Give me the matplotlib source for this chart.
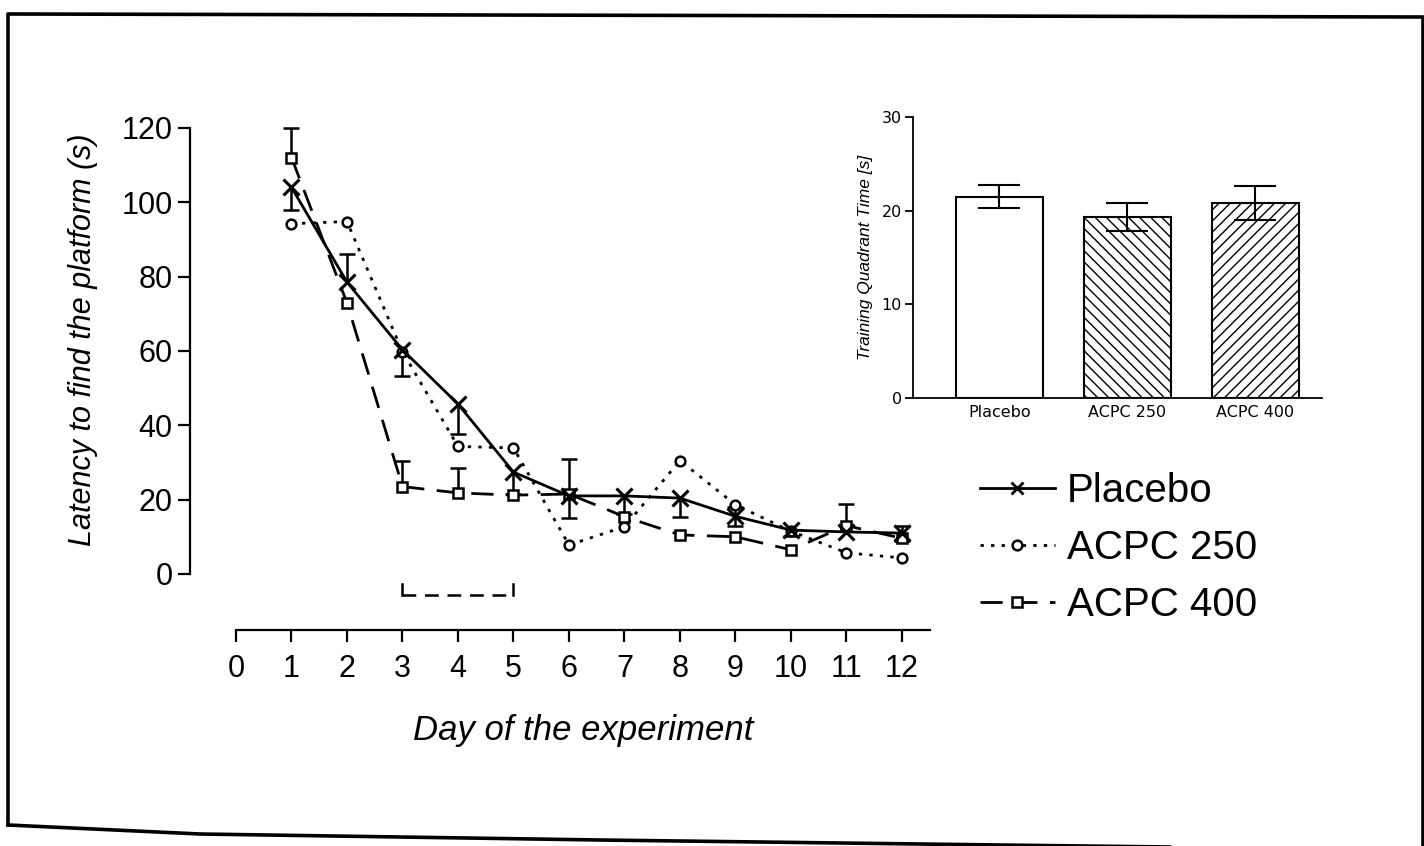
import matplotlib
matplotlib.use("Agg")
import matplotlib.pyplot as plt
import numpy as np
from matplotlib.lines import Line2D

plt.rcParams['font.family'] = ['Liberation Sans', 'DejaVu Sans']
plt.rcParams['hatch.linewidth'] = 1.0

# ---------------- data ----------------
days = [1, 2, 3, 4, 5, 6, 7, 8, 9, 10, 11, 12]
placebo = [104, 78.5, 60.3, 45.7, 27.4, 21, 21, 20.4, 15.5, 11.8, 11.3, 11]
placebo_lo = [6, 0, 7, 8, 6, 6, 5, 5, 2.5, 1.5, 0, 2]
placebo_hi = [0, 7.5, 0, 0, 0, 10, 0, 0, 2.5, 0, 0, 2]

acpc250 = [94.2, 94.8, 59.8, 34.3, 33.9, 7.8, 12.7, 30.5, 18.6, 11.5, 5.7, 4.3]

acpc400 = [112, 72.9, 23.5, 21.8, 21.2, 21.5, 15.4, 10.5, 10, 6.5, 13, 9.6]
acpc400_hi = [8, 0, 7, 6.7, 0, 0, 0, 0, 0, 0, 5.8, 0]

xticks_main = list(range(0, 13))
yticks_main = [0, 20, 40, 60, 80, 100, 120]

groups = ['Placebo', 'ACPC 250', 'ACPC 400']
quad_time = [21.5, 19.3, 20.8]
quad_err = [1.2, 1.5, 1.8]
inset_yticks = [0, 10, 20, 30]

W, H = 1424, 846
fig = plt.figure(figsize=(W / 100, H / 100), dpi=100)
fig.patch.set_facecolor('white')

def fx(px):
    return px / W

def fy(py):
    return 1 - py / H

# ---------------- main axes ----------------
ax = fig.add_axes([fx(180), fy(640), fx(935) - fx(180), fy(120) - fy(640)])
ax.set_xlim(-1.009, 12.595)
ax.set_ylim(-17.76, 122.1)
for s in ['top', 'right']:
    ax.spines[s].set_visible(False)
ax.spines['left'].set_position(('data', -0.83))
ax.spines['left'].set_bounds(0, 120)
ax.spines['bottom'].set_position(('data', -15))
ax.spines['bottom'].set_bounds(0, 12.5)
for s in ['left', 'bottom']:
    ax.spines[s].set_linewidth(1.6)
ax.set_xticks(xticks_main)
ax.set_yticks(yticks_main)
ax.tick_params(axis='both', direction='out', length=8.5, width=1.6, labelsize=22)
ax.tick_params(axis='y', pad=4)
ax.tick_params(axis='x', pad=9)

d = np.array(days, dtype=float)
p = np.array(placebo)
a250 = np.array(acpc250)
a400 = np.array(acpc400)

dotted = (0, (1.2, 2.6))
dashed = (0, (8, 4.5))

ax.plot(d, a250, color='black', lw=2.0, ls=dotted, marker='o', ms=7,
        mfc='white', mec='black', mew=1.8, zorder=3)
ax.plot(d, a400, color='black', lw=2.0, ls=dashed, marker='s', ms=7,
        mfc='white', mec='black', mew=1.8, zorder=3)
ax.plot(d, p, color='black', lw=2.0, ls='-', marker='x', ms=12,
        mew=2.2, zorder=4)

def err_up(x, y, hi):
    x = np.asarray(x); y = np.asarray(y); hi = np.asarray(hi)
    m = hi > 0
    ax.vlines(x[m], y[m], y[m] + hi[m], color='black', lw=1.8, zorder=2)
    ax.plot(x[m], y[m] + hi[m], ls='none', marker='_', ms=11, mew=1.8,
            color='black', zorder=2)

def err_lo(x, y, lo):
    x = np.asarray(x); y = np.asarray(y); lo = np.asarray(lo)
    m = lo > 0
    ax.vlines(x[m], y[m] - lo[m], y[m], color='black', lw=1.8, zorder=2)
    ax.plot(x[m], y[m] - lo[m], ls='none', marker='_', ms=11, mew=1.8,
            color='black', zorder=2)

err_up(d, p, placebo_hi)
err_lo(d, p, placebo_lo)
err_up(d, a400, acpc400_hi)

# dashed bracket under days 3-5
ax.plot([3, 5], [-5.6, -5.6], color='black', lw=1.8,
        ls=(0, (5.5, 3.5)), clip_on=False)
ax.plot([3, 3], [-2.6, -5.6], color='black', lw=1.8, clip_on=False)
ax.plot([5, 5], [-2.6, -5.6], color='black', lw=1.8, clip_on=False)

fig.text(fx(83), fy(340), 'Latency to find the platform (s)', rotation=90,
         ha='center', va='center', fontsize=22, style='italic')
fig.text(fx(583), fy(730), 'Day of the experiment', ha='center',
         va='center', fontsize=25, style='italic')

# legend
handles = [
    Line2D([], [], color='black', lw=2.0, ls='-', marker='x', ms=9, mew=2),
    Line2D([], [], color='black', lw=2.0, ls=dotted, marker='o', ms=7,
           mfc='white', mec='black', mew=1.8),
    Line2D([], [], color='black', lw=2.0, ls=dashed, marker='s', ms=7,
           mfc='white', mec='black', mew=1.8),
]
fig.legend(handles, groups, loc='upper left',
           bbox_to_anchor=(fx(980), fy(472)), frameon=False, fontsize=29,
           handlelength=1.85, handletextpad=0.3, labelspacing=0.47,
           borderpad=0, borderaxespad=0)

# ---------------- inset bar chart ----------------
ax2 = fig.add_axes([fx(913), fy(398), fx(1322) - fx(913), fy(117) - fy(398)])
ax2.set_xlim(-0.675, 2.52)
ax2.set_ylim(0, 30)
for s in ['top', 'right']:
    ax2.spines[s].set_visible(False)
for s in ['left', 'bottom']:
    ax2.spines[s].set_linewidth(1.3)
hatches = ['', '\\\\\\', '///']
xb = np.arange(len(groups))
for i in range(len(groups)):
    ax2.bar(xb[i], quad_time[i], width=0.675, facecolor='white',
            edgecolor='black', lw=1.5, hatch=hatches[i], zorder=2)
ax2.errorbar(xb, quad_time, yerr=quad_err, fmt='none', ecolor='black',
             elinewidth=1.5, capsize=15, capthick=1.5, zorder=3)
ax2.set_yticks(inset_yticks)
ax2.set_xticks(xb)
ax2.set_xticklabels(groups, fontsize=11.5, family=['DejaVu Sans'])
ax2.tick_params(axis='x', length=0, pad=5)
ax2.tick_params(axis='y', direction='out', length=6, width=1.3,
                labelsize=11.5, pad=2)
for t in ax2.get_yticklabels():
    t.set_family(['DejaVu Sans'])
ax2.set_ylabel('Training Quadrant Time [s]', fontsize=12.5,
               style='italic', labelpad=6)

# ---------------- scanned frame ----------------
frame_x = [8, 8, 1423, 1423]
frame_y = [825, 14, 17, 846]
fig.add_artist(Line2D([fx(v) for v in frame_x], [fy(v) for v in frame_y],
                      transform=fig.transFigure, color='black', lw=2.6))
bot_x = [8, 200, 600, 1000, 1424]
bot_y = [825, 834, 840, 845, 850]
fig.add_artist(Line2D([fx(v) for v in bot_x], [fy(v) for v in bot_y],
                      transform=fig.transFigure, color='black', lw=2.6))

fig.savefig('out.png', dpi=100, facecolor='white')
